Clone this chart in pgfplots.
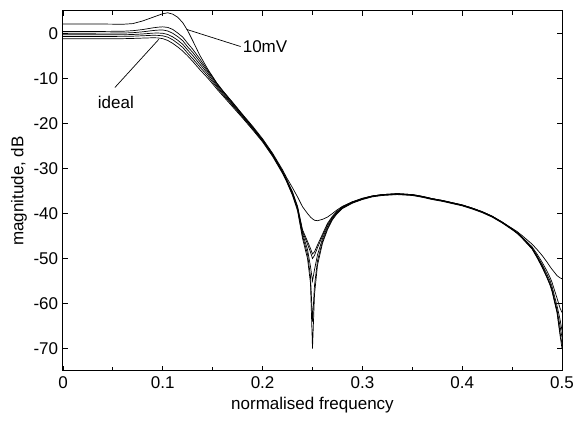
\documentclass[border=0pt]{standalone}
\usepackage{fontspec}
\setmainfont{Liberation Sans}
\usepackage{pgfplots}
\usepackage{pgfplotstable}
\pgfplotsset{compat=1.18}
\pgfplotstableread{
x c1 c2 c3 c4 c5 c6
0 -1.17 -0.66 -0.30 0.07 0.45 2.10
0.02 -1.17 -0.66 -0.30 0.07 0.45 2.10
0.04 -1.16 -0.66 -0.30 0.08 0.46 2.10
0.06 -1.15 -0.64 -0.28 0.10 0.50 2.05
0.07 -1.10 -0.60 -0.22 0.18 0.62 2.20
0.08 -1.02 -0.50 -0.10 0.38 0.88 2.80
0.09 -0.95 -0.40 0.08 0.65 1.25 3.60
0.095 -0.98 -0.42 0.10 0.75 1.40 4.00
0.1 -1.15 -0.52 0.05 0.78 1.48 4.40
0.105 -1.55 -0.82 -0.22 0.55 1.35 4.60
0.11 -2.20 -1.40 -0.75 0.05 0.90 4.30
0.115 -3.00 -2.20 -1.50 -0.70 0.10 3.60
0.12 -3.90 -3.10 -2.40 -1.60 -0.80 2.40
0.125 -5.00 -4.40 -3.70 -3.00 -2.20 0.60
0.13 -6.20 -5.60 -4.90 -4.20 -3.50 -1.60
0.137 -8.00 -7.40 -6.80 -6.20 -5.60 -4.80
0.145 -9.90 -9.40 -8.90 -8.50 -8.20 -7.90
0.15 -11.20 -10.80 -10.40 -10.00 -9.70 -9.60
0.154 -12.30 -11.90 -11.60 -11.30 -11.00 -11.00
0.16 -13.80 -13.50 -13.20 -12.90 -12.70 -12.70
0.17 -16.30 -16.00 -15.80 -15.60 -15.40 -15.30
0.18 -18.80 -18.60 -18.40 -18.20 -18.10 -18.00
0.19 -21.40 -21.20 -21.00 -20.90 -20.80 -20.60
0.2 -24.10 -23.90 -23.80 -23.70 -23.60 -23.40
0.21 -27.30 -27.10 -27.00 -26.90 -26.80 -26.60
0.22 -31.10 -30.90 -30.80 -30.70 -30.60 -30.30
0.224 -32.90 -32.70 -32.60 -32.50 -32.40 -32.00
0.23 -36.00 -35.80 -35.60 -35.40 -35.20 -34.30
0.235 -39.40 -39.00 -38.80 -38.60 -38.40 -36.30
0.24 -45.50 -45.00 -44.40 -44.00 -43.60 -38.50
0.245 -50.00 -49.00 -48.00 -46.80 -46.20 -40.00
0.248 -55.50 -54.00 -51.80 -48.60 -47.80 -40.80
0.25 -70.00 -64.00 -55.00 -50.00 -49.00 -41.20
0.252 -58.00 -56.00 -52.50 -49.30 -48.50 -41.50
0.255 -51.50 -50.50 -49.20 -47.60 -47.00 -41.60
0.26 -46.60 -46.20 -45.60 -45.00 -44.60 -41.30
0.265 -43.60 -43.30 -42.90 -42.50 -42.20 -40.80
0.27 -41.40 -41.20 -41.00 -40.80 -40.60 -40.00
0.274 -40.20 -40.00 -39.90 -39.80 -39.60 -39.30
0.28 -38.90 -38.80 -38.70 -38.60 -38.50 -38.40
0.29 -37.70 -37.60 -37.60 -37.50 -37.40 -37.40
0.3 -36.90 -36.80 -36.80 -36.70 -36.70 -36.60
0.31 -36.30 -36.20 -36.20 -36.10 -36.10 -36.10
0.32 -36.00 -35.90 -35.90 -35.80 -35.80 -35.80
0.335 -35.80 -35.70 -35.70 -35.60 -35.60 -35.60
0.35 -36.00 -35.90 -35.90 -35.80 -35.80 -35.80
0.36 -36.40 -36.30 -36.30 -36.20 -36.20 -36.20
0.37 -36.90 -36.80 -36.80 -36.70 -36.70 -36.70
0.38 -37.30 -37.20 -37.20 -37.10 -37.10 -37.10
0.39 -37.80 -37.70 -37.70 -37.60 -37.60 -37.60
0.4 -38.30 -38.20 -38.20 -38.10 -38.10 -38.10
0.41 -39.00 -38.90 -38.90 -38.80 -38.80 -38.80
0.42 -39.80 -39.70 -39.70 -39.60 -39.60 -39.60
0.43 -40.80 -40.70 -40.70 -40.60 -40.60 -40.60
0.44 -42.10 -42.00 -42.00 -41.90 -41.90 -41.90
0.45 -43.60 -43.50 -43.50 -43.40 -43.40 -43.30
0.455 -44.40 -44.40 -44.30 -44.30 -44.20 -44.00
0.46 -45.50 -45.40 -45.30 -45.30 -45.20 -44.90
0.47 -47.90 -47.80 -47.70 -47.60 -47.40 -46.80
0.475 -49.80 -49.70 -49.60 -49.40 -49.00 -48.00
0.48 -51.90 -51.80 -51.60 -51.30 -50.80 -49.30
0.485 -54.30 -54.20 -54.00 -53.50 -52.80 -50.80
0.488 -55.90 -55.80 -55.50 -54.90 -54.20 -51.80
0.49 -57.30 -57.10 -56.80 -56.20 -55.30 -52.40
0.495 -62.00 -61.80 -61.40 -60.50 -58.80 -53.80
0.498 -67.00 -66.40 -65.00 -63.50 -61.00 -54.30
0.5 -70.00 -69.00 -67.50 -66.00 -62.00 -54.50
}\data
\begin{document}
\fontsize{17}{20}\selectfont
\begin{tikzpicture}
\path[use as bounding box] (-63pt,-67pt) rectangle (512pt,371pt);
\begin{axis}[
  at={(0pt,0pt)}, anchor=south west,
  scale only axis, width=499pt, height=360pt,
  xmin=0, xmax=0.5, ymin=-75, ymax=5,
  xtick={0,0.1,0.2,0.3,0.4,0.5},
  xticklabels={0,0.1,0.2,0.3,0.4,0.5},
  minor xtick={0.05,0.15,0.25,0.35,0.45},
  ytick={-70,-60,-50,-40,-30,-20,-10,0},
  yticklabels={-70,-60,-50,-40,-30,-20,-10,0},
  tick align=inside,
  major tick length=5pt, minor tick length=4pt,
  axis line style={line width=1pt},
  every tick/.style={black, line width=0.8pt},
  tick label style={font=\fontsize{17}{20}\selectfont},
  yticklabel style={xshift=1pt},
  label style={font=\fontsize{17}{20}\selectfont},
  xlabel={normalised frequency},
  ylabel={magnitude, dB},
  xlabel style={at={(axis description cs:0.5,-0.095)}, anchor=center},
  ylabel style={at={(axis description cs:-0.088,0.5)}, anchor=center},
  no markers,
  clip=true,
]
\addplot[black, line width=0.7pt] table[x=x, y=c1] {\data};
\addplot[black, line width=0.7pt] table[x=x, y=c2] {\data};
\addplot[black, line width=0.7pt] table[x=x, y=c3] {\data};
\addplot[black, line width=0.7pt] table[x=x, y=c4] {\data};
\addplot[black, line width=0.7pt] table[x=x, y=c5] {\data};
\addplot[black, line width=0.7pt] table[x=x, y=c6] {\data};
\draw[line width=0.7pt] (axis cs:0.124,0.9) -- (axis cs:0.178,-2.9);
\node[anchor=west, inner sep=1pt] at (axis cs:0.179,-2.9) {10mV};
\draw[line width=0.7pt] (axis cs:0.052,-12.0) -- (axis cs:0.096,-1.3);
\node[anchor=center] at (axis cs:0.053,-15.4) {ideal};
\node[anchor=center] at (axis description cs:0.5,-0.165) {\textit{a}};
\end{axis}
\end{tikzpicture}
\end{document}
